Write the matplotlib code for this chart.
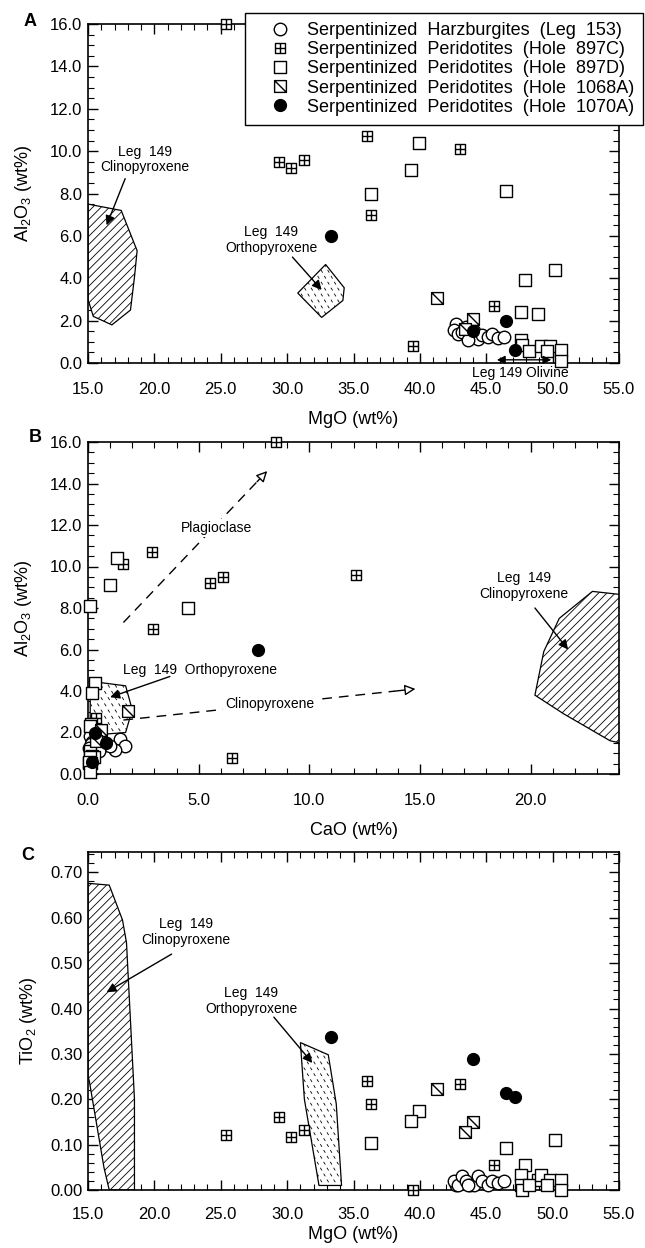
import matplotlib
matplotlib.use('Agg')
import matplotlib.pyplot as plt
from matplotlib.path import Path
from matplotlib.patches import Polygon
from matplotlib.collections import LineCollection
from matplotlib.ticker import MultipleLocator, FormatStrFormatter
from matplotlib.lines import Line2D

plt.rcParams['font.family'] = ['Liberation Sans', 'DejaVu Sans']
plt.rcParams['mathtext.default'] = 'regular'
plt.rcParams['hatch.linewidth'] = 0.6

# --- Leg 153 serpentinized harzburgites
leg153_mgo = [42.7, 42.6, 42.9, 43.2, 43.5, 43.8, 44.1, 44.4, 44.7, 45.1, 45.4, 45.9, 46.3, 43.6]
leg153_al = [1.85, 1.55, 1.35, 1.45, 1.7, 1.35, 1.5, 1.15, 1.3, 1.25, 1.35, 1.2, 1.25, 1.1]
leg153_cao = [0.10, 0.20, 0.30, 0.15, 1.45, 1.65, 0.80, 1.20, 0.60, 0.40, 1.00, 0.25, 0.05, 0.50]
leg153_tio2 = [0.010, 0.020, 0.010, 0.030, 0.020, 0.010, 0.010, 0.030, 0.020, 0.010, 0.020, 0.015, 0.020, 0.010]

# --- Hole 897C
h897c_mgo = [25.4, 29.4, 30.3, 31.3, 36.0, 36.3, 39.5, 43.0, 45.6]
h897c_al = [16.0, 9.5, 9.2, 9.6, 10.7, 7.0, 0.78, 10.1, 2.7]
h897c_cao = [8.5, 6.1, 5.5, 12.1, 2.9, 2.95, 6.5, 1.6, 0.35]
h897c_tio2 = [0.121, 0.160, 0.117, 0.133, 0.240, 0.189, 0.000, 0.233, 0.055]

# --- Hole 897D
h897d_mgo = [39.9, 39.3, 46.5, 36.3, 50.2, 47.9, 47.6, 48.9, 47.6, 47.7, 48.2, 49.1, 49.8, 49.6, 50.6, 50.6]
h897d_al = [10.4, 9.1, 8.1, 8.0, 4.4, 3.9, 2.4, 2.3, 1.1, 0.85, 0.55, 0.8, 0.8, 0.55, 0.6, 0.08]
h897d_cao = [1.3, 1.0, 0.1, 4.5, 0.3, 0.2, 0.15, 0.1, 0.1, 0.2, 0.05, 0.25, 0.1, 0.15, 0.05, 0.1]
h897d_tio2 = [0.174, 0.151, 0.093, 0.103, 0.110, 0.056, 0.034, 0.022, 0.011, 0.000, 0.011, 0.034, 0.022, 0.011, 0.022, 0.000]

# --- Hole 1068A
h1068a_mgo = [41.3, 44.0, 43.4]
h1068a_al = [3.05, 2.1, 1.6]
h1068a_cao = [1.8, 0.6, 0.35]
h1068a_tio2 = [0.222, 0.149, 0.128]

# --- Hole 1070A
h1070a_mgo = [33.3, 44.0, 46.5, 47.2]
h1070a_al = [6.0, 1.5, 2.0, 0.6]
h1070a_cao = [7.7, 0.8, 0.3, 0.2]
h1070a_tio2 = [0.337, 0.288, 0.214, 0.204]

# --- Leg 149 mineral fields
cpx_mgo_al = [(15.0, 7.5), (17.5, 7.2), (18.7, 5.3), (18.5, 4.05), (18.2, 2.5),
              (16.8, 1.8), (15.4, 2.2), (15.0, 3.0)]
opx_mgo_al = [(30.8, 3.3), (32.9, 4.65), (34.3, 3.55), (34.2, 2.95), (32.6, 2.15)]
olivine_mgo = [45.8, 49.9]

cpx_cao_al = [(22.8, 8.8), (24.5, 8.6), (24.5, 1.4), (23.6, 1.6), (21.5, 2.9),
              (20.2, 3.8), (20.6, 5.9), (21.3, 7.5)]
opx_cao_al = [(0.6, 4.4), (1.7, 4.25), (2.0, 3.1), (1.7, 2.0), (0.5, 1.9), (0.1, 2.6), (0.1, 3.9)]

cpx_mgo_ti = [(15.0, 0.676), (16.6, 0.672), (17.6, 0.595), (17.9, 0.545), (18.5, 0.20),
              (18.5, 0.0), (16.6, 0.0), (16.2, 0.05), (15.1, 0.24), (15.0, 0.25)]
opx_mgo_ti = [(31.0, 0.325), (33.1, 0.298), (33.7, 0.19), (34.1, 0.01), (32.4, 0.01), (31.3, 0.20)]

legend_labels = ['Serpentinized  Harzburgites  (Leg  153)',
                 'Serpentinized  Peridotites  (Hole  897C)',
                 'Serpentinized  Peridotites  (Hole  897D)',
                 'Serpentinized  Peridotites  (Hole  1068A)',
                 'Serpentinized  Peridotites  (Hole  1070A)']

# marker shapes
M, L, C = Path.MOVETO, Path.LINETO, Path.CLOSEPOLY
box = Path([(-1, -1), (1, -1), (1, 1), (-1, 1), (-1, -1)], [M, L, L, L, C])
box_plus = Path([(-1, -1), (1, -1), (1, 1), (-1, 1), (-1, -1), (0, -1), (0, 1), (-1, 0), (1, 0)],
                [M, L, L, L, C, M, L, M, L])
box_diag = Path([(-1, -1), (1, -1), (1, 1), (-1, 1), (-1, -1), (-1, 1), (1, -1)],
                [M, L, L, L, C, M, L])

styles = [
    dict(marker='o', ms=9, mfc='white'),
    dict(marker=box_plus, ms=7.2, mfc='white'),
    dict(marker=box, ms=8.5, mfc='white'),
    dict(marker=box_diag, ms=8.5, mfc='white'),
    dict(marker='o', ms=8.5, mfc='black'),
]


def scatter(ax, xs, ys, st, z):
    ax.plot(xs, ys, ls='none', mec='black', mew=1.0, clip_on=False, zorder=z, **st)


def cpx_field(ax, verts):
    p = Polygon(verts, closed=True, facecolor='white', edgecolor='black', lw=0.9,
                hatch='////', zorder=2)
    ax.add_patch(p)


def opx_field(ax, verts, sx, sy):
    p = Polygon(verts, closed=True, facecolor='white', edgecolor='black', lw=0.9, zorder=2)
    ax.add_patch(p)
    xs = [v[0] for v in verts]
    ys = [v[1] for v in verts]
    segs = []
    row = 0
    y = min(ys) - sy
    while y <= max(ys) + sy:
        x = min(xs) - sx + (row % 2) * 0.5 * sx
        while x <= max(xs) + sx:
            segs.append([(x, y), (x + 0.25 * sx, y - 0.45 * sy)])
            x += sx
        y += sy
        row += 1
    lc = LineCollection(segs, colors='black', linewidths=0.6, zorder=2.1)
    lc.set_clip_path(p)
    ax.add_collection(lc)


def style_axis(ax, xlim, ylim, xstep, ystep, ymin, xfmt, yfmt, xpad=14):
    ax.set_xlim(*xlim)
    ax.set_ylim(*ylim)
    ax.xaxis.set_major_locator(MultipleLocator(xstep))
    ax.xaxis.set_minor_locator(MultipleLocator(xstep / 5))
    ax.yaxis.set_major_locator(MultipleLocator(ystep))
    ax.yaxis.set_minor_locator(MultipleLocator(ymin))
    ax.xaxis.set_major_formatter(FormatStrFormatter(xfmt))
    ax.yaxis.set_major_formatter(FormatStrFormatter(yfmt))
    ax.tick_params(which='both', direction='in', top=True, right=True)
    ax.tick_params(which='major', length=7, width=1.0, labelsize=12)
    ax.tick_params(which='minor', length=4, width=0.8)
    ax.tick_params(axis='x', pad=xpad)
    ax.tick_params(axis='y', pad=4)
    for s in ax.spines.values():
        s.set_linewidth(1.2)


def label_arrow(ax, text, tail, head, pos, ha='center'):
    ax.annotate('', xy=head, xytext=tail,
                arrowprops=dict(arrowstyle='-|>', color='black', lw=1.0,
                                mutation_scale=14, shrinkA=0, shrinkB=0), zorder=6)
    ax.text(pos[0], pos[1], text, ha=ha, va='center', fontsize=10, linespacing=1.15, zorder=6)


def dashed_arrow(ax, tail, head, frac=0.93):
    mid = (tail[0] + (head[0] - tail[0]) * frac, tail[1] + (head[1] - tail[1]) * frac)
    ax.plot([tail[0], mid[0]], [tail[1], mid[1]], color='black', lw=1.0,
            dashes=(7, 5), zorder=4)
    ax.annotate('', xy=head, xytext=mid,
                arrowprops=dict(arrowstyle='-|>', color='black', fc='white', lw=1.0,
                                mutation_scale=16, shrinkA=0, shrinkB=0), zorder=4)


fig = plt.figure(figsize=(6.45, 12.48), dpi=100)
left, right = 88 / 645, 619 / 645
axA = fig.add_axes([left, 1 - 363 / 1248, right - left, 339 / 1248])
axB = fig.add_axes([left, 1 - 774 / 1248, right - left, 332 / 1248])
axC = fig.add_axes([left, 1 - 1190 / 1248, right - left, 338 / 1248])

groups_mgo = [leg153_mgo, h897c_mgo, h897d_mgo, h1068a_mgo, h1070a_mgo]
groups_al = [leg153_al, h897c_al, h897d_al, h1068a_al, h1070a_al]
groups_cao = [leg153_cao, h897c_cao, h897d_cao, h1068a_cao, h1070a_cao]
groups_ti = [leg153_tio2, h897c_tio2, h897d_tio2, h1068a_tio2, h1070a_tio2]

# ---- A: MgO vs Al2O3
style_axis(axA, (15, 55), (0, 16), 5, 2, 0.5, '%.1f', '%.1f')
cpx_field(axA, cpx_mgo_al)
opx_field(axA, opx_mgo_al, 0.5, 0.28)
for i, st in enumerate(styles):
    scatter(axA, groups_mgo[i], groups_al[i], st, 5 + i)
label_arrow(axA, 'Leg  149\nClinopyroxene', (17.8, 8.7), (16.4, 6.5), (19.3, 9.6))
label_arrow(axA, 'Leg  149\nOrthopyroxene', (30.4, 5.0), (32.6, 3.45), (28.8, 5.8))
axA.annotate('', xy=(olivine_mgo[1], 0.15), xytext=(olivine_mgo[0], 0.15),
             arrowprops=dict(arrowstyle='<|-|>', color='black', lw=1.0, mutation_scale=12,
                             shrinkA=0, shrinkB=0), zorder=12, annotation_clip=False)
axA.text(47.6, -0.47, 'Leg 149 Olivine', ha='center', va='center', fontsize=10, clip_on=False)
axA.set_xlabel('MgO (wt%)', fontsize=13, labelpad=10)
axA.set_ylabel('Al$_2$O$_3$ (wt%)', fontsize=13, labelpad=11.5)

# ---- B: CaO vs Al2O3
style_axis(axB, (0, 24), (0, 16), 5, 2, 0.5, '%.1f', '%.1f')
cpx_field(axB, cpx_cao_al)
opx_field(axB, opx_cao_al, 0.32, 0.3)
dashed_arrow(axB, (1.6, 7.3), (8.1, 14.6))
axB.text(5.8, 11.85, 'Plagioclase', ha='center', va='center', fontsize=10, zorder=5,
         bbox=dict(facecolor='white', edgecolor='none', pad=1.5))
dashed_arrow(axB, (1.6, 2.6), (14.8, 4.1))
axB.text(8.2, 3.35, 'Clinopyroxene', ha='center', va='center', fontsize=10, zorder=5,
         bbox=dict(facecolor='white', edgecolor='none', pad=1.5))
for i, st in enumerate(styles):
    scatter(axB, groups_cao[i], groups_al[i], st, 5 + i)
label_arrow(axB, 'Leg  149  Orthopyroxene', (3.7, 4.7), (1.0, 3.7), (1.6, 5.0), ha='left')
label_arrow(axB, 'Leg  149\nClinopyroxene', (20.2, 8.0), (21.7, 6.0), (19.7, 9.06))
axB.set_xlabel('CaO (wt%)', fontsize=13, labelpad=10)
axB.set_ylabel('Al$_2$O$_3$ (wt%)', fontsize=13, labelpad=11.5)

# ---- C: MgO vs TiO2
style_axis(axC, (15, 55), (0, 0.745), 5, 0.1, 0.02, '%.1f', '%.2f', xpad=12)
cpx_field(axC, cpx_mgo_ti)
opx_field(axC, opx_mgo_ti, 0.5, 0.013)
for i, st in enumerate(styles):
    scatter(axC, groups_mgo[i], groups_ti[i], st, 5 + i)
label_arrow(axC, 'Leg  149\nClinopyroxene', (21.3, 0.52), (16.4, 0.436), (22.4, 0.568))
label_arrow(axC, 'Leg  149\nOrthopyroxene', (29.0, 0.381), (31.9, 0.28), (27.3, 0.416))
axC.set_xlabel('MgO (wt%)', fontsize=13, labelpad=3)
axC.set_ylabel('TiO$_2$ (wt%)', fontsize=13, labelpad=8)

# panel letters
fig.text(30 / 645, 1 - 22 / 1248, 'A', fontsize=13, fontweight='bold', ha='center', va='center')
fig.text(35 / 645, 1 - 438 / 1248, 'B', fontsize=13, fontweight='bold', ha='center', va='center')
fig.text(28 / 645, 1 - 855 / 1248, 'C', fontsize=13, fontweight='bold', ha='center', va='center')

handles = [Line2D([], [], ls='none', mec='black', mew=1.0, **st) for st in styles]
leg = fig.legend(handles, legend_labels, loc='upper right',
                 bbox_to_anchor=(643 / 645, 1 - 13 / 1248), fontsize=13,
                 frameon=True, fancybox=False, framealpha=1, edgecolor='black',
                 borderpad=0.5, handlelength=2.8, handletextpad=0.1, labelspacing=0.12,
                 borderaxespad=0)
leg.get_frame().set_linewidth(1.0)

fig.savefig('out.png', dpi=100)
